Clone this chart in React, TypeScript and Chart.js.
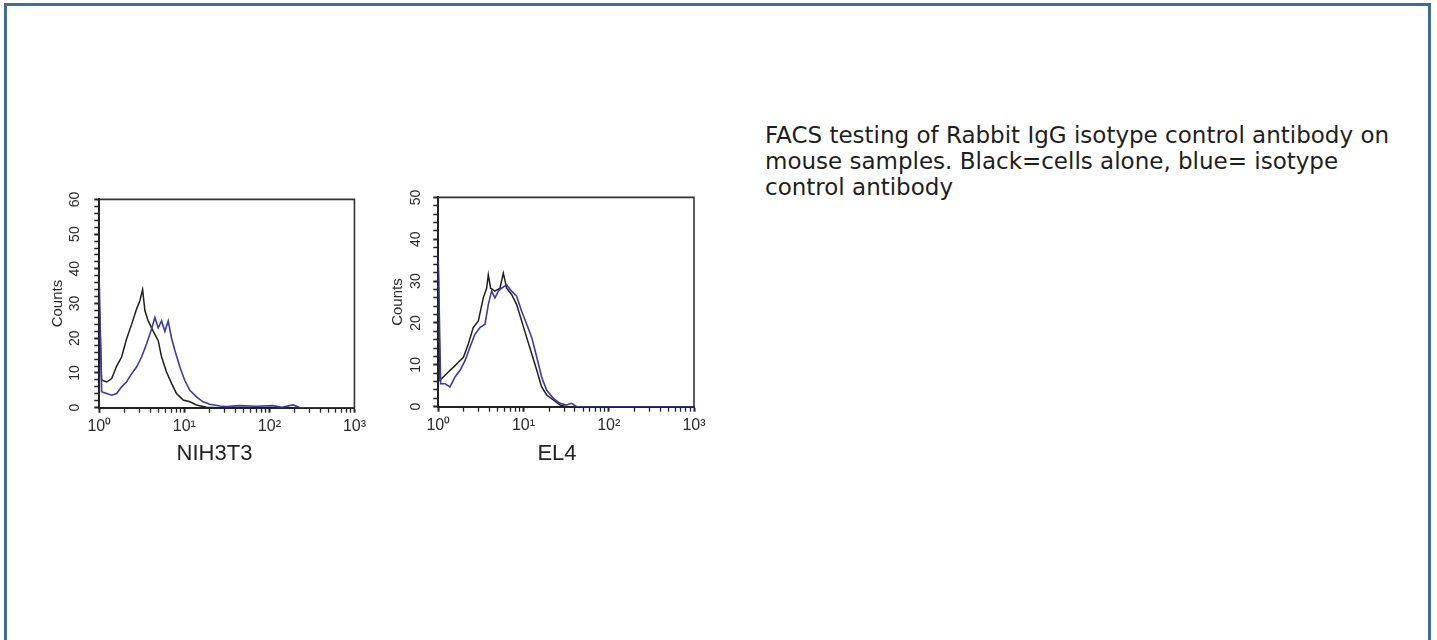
import React, { useEffect, useRef } from 'react';
import { Chart, registerables } from 'chart.js';

Chart.register(...registerables);

// ---------- axes ----------
const xTicks = [1, 2, 3, 4, 5, 6, 7, 8, 9, 10, 20, 30, 40, 50, 60, 70, 80, 90, 100, 200, 300, 400, 500, 600, 700, 800, 900, 1000];
const xMajorTicks = [1, 10, 100, 1000];
const xTickLabels = ['10⁰', '10¹', '10²', '10³'];

const nihYTicks = [0, 2, 4, 6, 8, 10, 12, 14, 16, 18, 20, 22, 24, 26, 28, 30, 32, 34, 36, 38, 40, 42, 44, 46, 48, 50, 52, 54, 56, 58, 60];
const el4YTicks = [0, 2, 4, 6, 8, 10, 12, 14, 16, 18, 20, 22, 24, 26, 28, 30, 32, 34, 36, 38, 40, 42, 44, 46, 48, 50];
const yMajorStep = 10;

// ---------- NIH3T3 ----------
const nihBlackX = [1, 1.065, 1.22, 1.4, 1.6, 1.83, 2.09, 2.4, 2.74, 3.0, 3.23, 3.44, 3.76, 4.31, 4.93, 5.4, 6.17, 7.07, 8.09, 9.69, 11.6, 13.9, 18.2, 25, 1000];
const nihBlackY = [30, 8.0, 7.4, 8.4, 12.0, 14.6, 19.8, 24.0, 28.4, 30.8, 34.0, 27.9, 25.0, 22.0, 19.3, 14.6, 10.3, 7.0, 4.1, 2.2, 1.7, 0.8, 0.1, 0, 0];
const nihBlueX = [1, 1.065, 1.22, 1.4, 1.6, 1.83, 2.09, 2.4, 2.74, 3.14, 3.6, 4.12, 4.5, 4.93, 5.4, 5.9, 6.46, 7.07, 7.74, 8.86, 10.1, 11.6, 13.9, 16.6, 19.9, 26.1, 31.3, 44.8, 70.4, 110, 140, 190, 230, 1000];
const nihBlueY = [36, 4.6, 4.1, 3.6, 4.1, 6.0, 7.4, 9.8, 11.7, 14.6, 18.4, 22.7, 26.0, 23.0, 25.0, 22.0, 25.0, 20.0, 16.5, 11.7, 7.9, 5.0, 3.1, 1.7, 1.0, 0.5, 0.3, 0.6, 0.4, 0.6, 0.1, 0.8, 0, 0];

// ---------- EL4 ----------
const el4BlackX = [1, 1.046, 1.145, 1.31, 1.5, 1.72, 1.97, 2.25, 2.57, 2.95, 3.37, 3.69, 3.86, 4.11, 4.62, 5.29, 5.79, 6.34, 7.25, 8.3, 9.5, 10.9, 12.5, 14.3, 16.3, 18.7, 22.4, 26.8, 32, 1000];
const el4BlackY = [33, 6.3, 7.1, 8.3, 9.4, 10.6, 11.8, 15.0, 18.9, 20.5, 26.0, 28.3, 31.5, 28.3, 27.6, 28.3, 31.9, 28.3, 26.8, 24.4, 20.5, 16.5, 12.6, 8.7, 4.7, 2.8, 1.6, 0.4, 0, 0];
const el4BlueX = [1, 1.065, 1.197, 1.37, 1.57, 1.8, 2.06, 2.35, 2.69, 3.08, 3.53, 3.86, 4.22, 4.62, 5.06, 5.53, 6.34, 7.25, 8.3, 9.5, 10.9, 12.5, 14.3, 16.3, 18.7, 22.4, 26.8, 32.0, 36.7, 42, 1000];
const el4BlueY = [35, 5.5, 5.5, 4.7, 7.1, 8.7, 11.0, 14.2, 17.3, 18.9, 19.7, 24.4, 27.6, 26.0, 27.6, 28.3, 29.1, 27.6, 26.4, 22.8, 19.7, 16.5, 11.8, 7.1, 3.9, 2.0, 0.8, 0.4, 0.8, 0, 0];

const captionLines = [
  'FACS testing of Rabbit IgG isotype control antibody on',
  'mouse samples. Black=cells alone, blue= isotype',
  'control antibody',
];

const BLACK = '#1e1e1e';
const BLUE = '#3d3aa6';
const AXIS = '#222222';
const LABEL_FONT = 'Liberation Sans, Arial, sans-serif';

const framePlugin = {
  id: 'plotFrame',
  beforeDatasetsDraw(chart: any) {
    const { ctx, chartArea: a } = chart;
    ctx.save();
    ctx.strokeStyle = '#333333';
    ctx.lineWidth = 1.6;
    ctx.beginPath();
    ctx.moveTo(a.left, a.top);
    ctx.lineTo(a.right, a.top);
    ctx.lineTo(a.right, a.bottom);
    ctx.stroke();
    ctx.restore();
  },
};

type PanelProps = {
  left: number;
  top: number;
  width: number;
  height: number;
  padTop: number;
  padRight: number;
  yWidth: number;
  xHeight: number;
  yMax: number;
  yTicks: number[];
  yLabelPad: number;
  yTitlePad: number;
  blackX: number[];
  blackY: number[];
  blueX: number[];
  blueY: number[];
};

function Panel(p: PanelProps) {
  const ref = useRef<HTMLCanvasElement | null>(null);
  useEffect(() => {
    if (!ref.current) return;
    const toPts = (xs: number[], ys: number[]) => xs.map((x, i) => ({ x, y: ys[i] }));
    const chart = new Chart(ref.current, {
      type: 'line',
      data: {
        datasets: [
          {
            label: 'isotype control',
            data: toPts(p.blueX, p.blueY),
            borderColor: BLUE,
            borderWidth: 1.6,
            pointRadius: 0,
            tension: 0,
            fill: false,
          },
          {
            label: 'cells alone',
            data: toPts(p.blackX, p.blackY),
            borderColor: BLACK,
            borderWidth: 1.5,
            pointRadius: 0,
            tension: 0,
            fill: false,
          },
        ],
      },
      options: {
        animation: false,
        responsive: false,
        maintainAspectRatio: false,
        layout: { padding: { top: p.padTop, right: p.padRight, left: 0, bottom: 0 } },
        plugins: { legend: { display: false }, tooltip: { enabled: false } },
        scales: {
          x: {
            type: 'logarithmic',
            min: 1,
            max: 1000,
            afterBuildTicks: (scale: any) => {
              scale.ticks = xTicks.map((v) => ({ value: v, major: xMajorTicks.includes(v) }));
            },
            afterFit: (scale: any) => {
              scale.height = p.xHeight;
            },
            grid: {
              drawOnChartArea: false,
              drawTicks: true,
              tickLength: 5,
              tickColor: AXIS,
              tickWidth: (c: any) => (c.tick && xMajorTicks.includes(c.tick.value) ? 2 : 1.3),
            },
            border: { display: true, color: AXIS, width: 2 },
            ticks: {
              autoSkip: false,
              maxRotation: 0,
              minRotation: 0,
              padding: 4,
              color: '#2a2a2a',
              font: { family: LABEL_FONT, size: 16 },
              callback: (v: any) => {
                const i = xMajorTicks.indexOf(Number(v));
                return i >= 0 ? xTickLabels[i] : '';
              },
            },
          },
          y: {
            type: 'linear',
            min: 0,
            max: p.yMax,
            afterBuildTicks: (scale: any) => {
              scale.ticks = p.yTicks.map((v) => ({ value: v }));
            },
            afterFit: (scale: any) => {
              scale.width = p.yWidth;
            },
            grid: {
              drawOnChartArea: false,
              drawTicks: true,
              tickLength: 5,
              tickColor: AXIS,
              tickWidth: (c: any) => (c.tick && c.tick.value % yMajorStep === 0 ? 2 : 1.5),
            },
            border: { display: true, color: AXIS, width: 2 },
            ticks: {
              autoSkip: false,
              minRotation: 90,
              maxRotation: 90,
              crossAlign: 'center',
              padding: p.yLabelPad,
              color: '#2a2a2a',
              font: { family: LABEL_FONT, size: 14 },
              callback: (v: any) => (Number(v) % yMajorStep === 0 ? String(v) : ''),
            },
            title: {
              display: true,
              text: 'Counts',
              color: '#2a2a2a',
              font: { family: LABEL_FONT, size: 15 },
              padding: { top: p.yTitlePad, bottom: 0 },
            },
          },
        },
      } as any,
      plugins: [framePlugin],
    });
    return () => chart.destroy();
  }, []);
  return (
    <canvas
      ref={ref}
      width={p.width}
      height={p.height}
      style={{ position: 'absolute', left: p.left, top: p.top, width: p.width, height: p.height }}
    />
  );
}

const labelStyle: React.CSSProperties = {
  position: 'absolute',
  top: 440,
  transform: 'translateX(-50%)',
  fontFamily: LABEL_FONT,
  fontSize: 22,
  lineHeight: '26px',
  color: '#222222',
  whiteSpace: 'nowrap',
};

export default function App() {
  return (
    <div style={{ position: 'absolute', left: 0, top: 0, width: 1437, height: 640, background: '#ffffff', overflow: 'hidden' }}>
      <div
        style={{
          position: 'absolute',
          left: 4,
          top: 3,
          width: 1427,
          height: 637,
          boxSizing: 'border-box',
          borderTop: '3px solid #3e6d9c',
          borderLeft: '3px solid #3e6d9c',
          borderRight: '3px solid #3e6d9c',
        }}
      />
      <Panel
        left={40}
        top={180}
        width={330}
        height={300}
        padTop={17}
        padRight={15}
        yWidth={59.3}
        xHeight={72.3}
        yMax={60}
        yTicks={nihYTicks}
        yLabelPad={11}
        yTitlePad={9}
        blackX={nihBlackX}
        blackY={nihBlackY}
        blueX={nihBlueX}
        blueY={nihBlueY}
      />
      <Panel
        left={380}
        top={180}
        width={330}
        height={300}
        padTop={15}
        padRight={16}
        yWidth={58.3}
        xHeight={73.3}
        yMax={50}
        yTicks={el4YTicks}
        yLabelPad={9}
        yTitlePad={8.5}
        blackX={el4BlackX}
        blackY={el4BlackY}
        blueX={el4BlueX}
        blueY={el4BlueY}
      />
      <div style={{ ...labelStyle, left: 214.5 }}>NIH3T3</div>
      <div style={{ ...labelStyle, left: 557 }}>EL4</div>
      <div
        style={{
          position: 'absolute',
          left: 765,
          top: 122,
          fontFamily: 'DejaVu Sans, sans-serif',
          fontSize: 23,
          lineHeight: '26px',
          color: '#1e1e1e',
          whiteSpace: 'nowrap',
        }}
      >
        {captionLines.map((l, i) => (
          <div key={i}>{l}</div>
        ))}
      </div>
    </div>
  );
}
